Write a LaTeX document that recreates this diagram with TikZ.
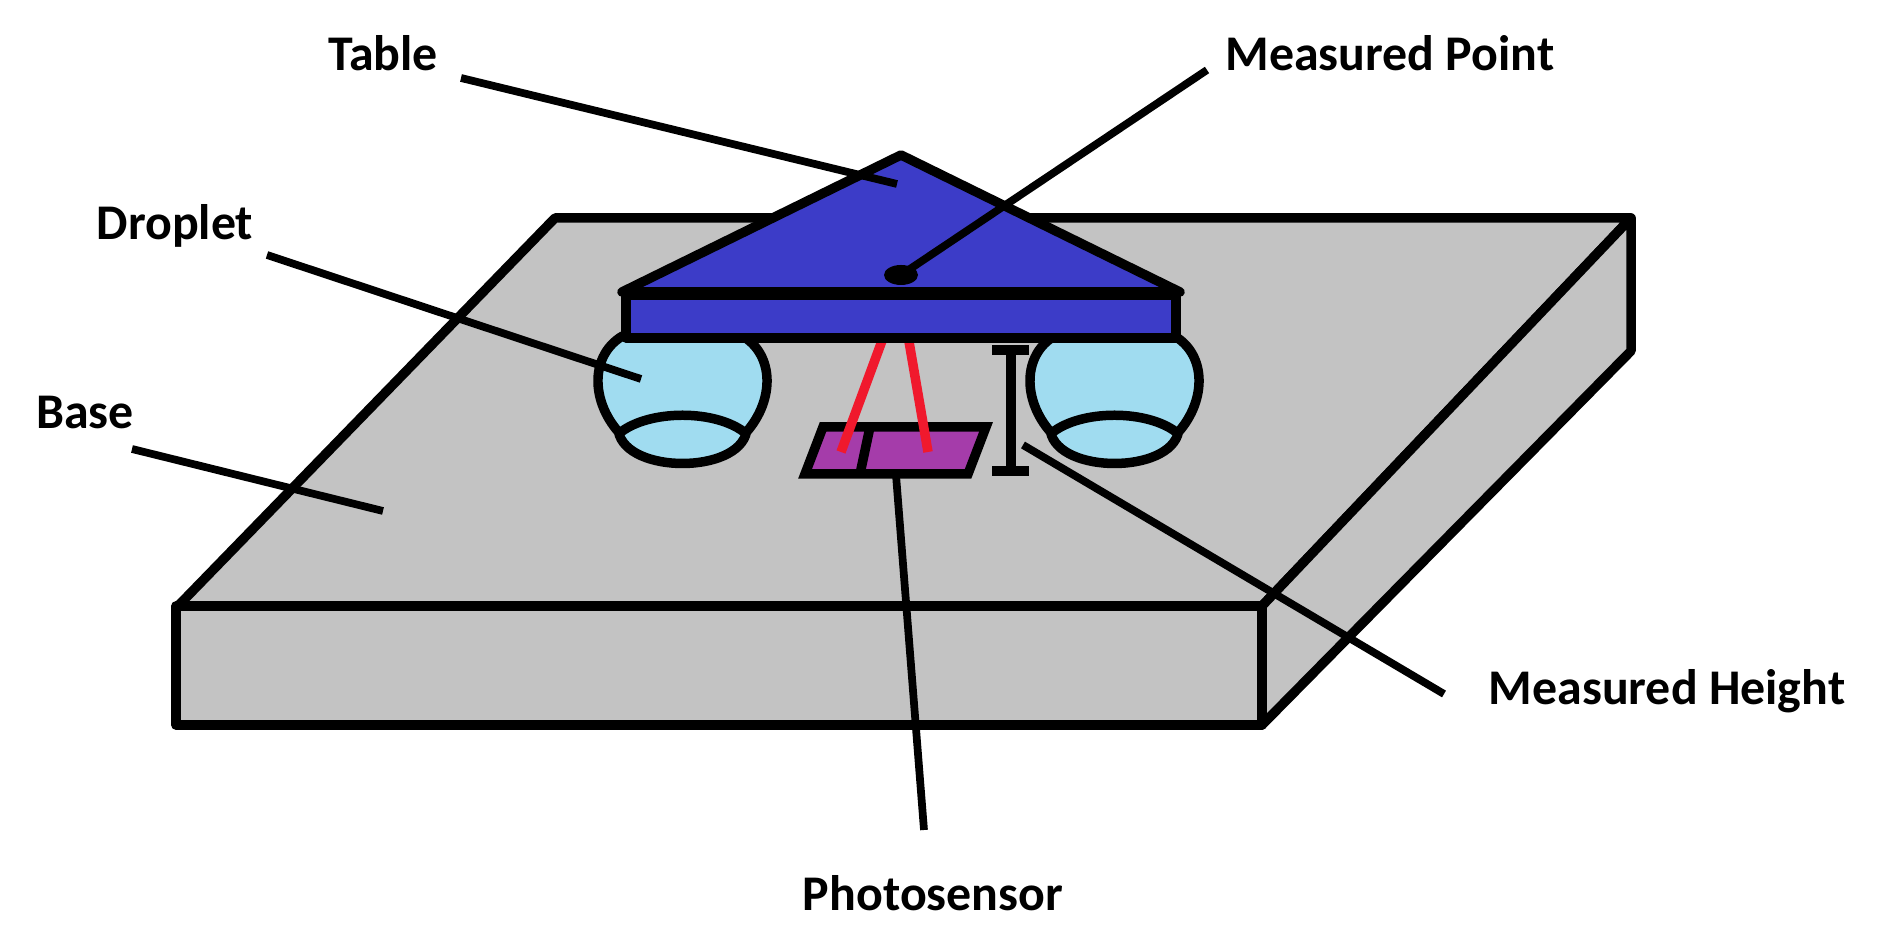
\documentclass[tikz,border=0pt]{standalone}
\usepackage{fontspec}
\setmainfont{Carlito}
\definecolor{basegray}{RGB}{195,195,195}
\definecolor{tableblue}{RGB}{60,60,200}
\definecolor{dropblue}{RGB}{160,220,240}
\definecolor{sensorpurple}{RGB}{165,60,170}
\definecolor{beamred}{RGB}{240,25,45}
\tikzset{
    outline/.style={line width=2.7pt,line join=round},
    leader/.style={line width=2.2pt},
    tag/.style={font=\fontsize{14.2pt}{16pt}\selectfont\bfseries,inner sep=0pt},
}
\begin{document}
\begin{tikzpicture}
        \useasboundingbox (0,0) rectangle (18.87,-9.51);
        % base
        \draw [outline,fill=basegray] (1.78,-6.06) -- (5.55,-2.18) -- (16.31,-2.18) -- (12.62,-6.06) -- cycle;
        \draw [outline,fill=basegray] (12.62,-6.06) -- (16.31,-2.18) -- (16.31,-3.51) -- (12.62,-7.25) -- cycle;
        \draw [outline,fill=basegray] (1.76,-6.06) rectangle (12.62,-7.25);
        % droplets
        \foreach \x in {6.825,11.145}{
            \draw [outline,fill=dropblue] (\x-.6,-3.36) .. controls (\x-.92,-3.55) and (\x-.92,-4) .. (\x-.64,-4.32)
                .. controls (\x-.55,-4.74) and (\x+.55,-4.74) .. (\x+.64,-4.32)
                .. controls (\x+.92,-4) and (\x+.92,-3.55) .. (\x+.6,-3.36) -- cycle;
            \draw [outline] (\x-.64,-4.34) .. controls (\x-.35,-4.09) and (\x+.35,-4.09) .. (\x+.64,-4.34);
        }
        % sensor
        \draw [outline,line join=miter,fill=sensorpurple] (8.23,-4.27) -- (9.86,-4.27) -- (9.68,-4.74) -- (8.05,-4.74) -- cycle;
        \draw [outline] (8.7,-4.27) -- (8.6,-4.74);
        \draw [line width=2.7pt,beamred] (8.86,-3.3) -- (8.41,-4.52);
        \draw [line width=2.7pt,beamred] (9.07,-3.3) -- (9.28,-4.52);
        % height bar
        \draw [outline] (10.11,-3.5) -- (10.11,-4.71);
        \draw [outline] (9.92,-3.5) -- (10.29,-3.5);
        \draw [outline] (9.92,-4.71) -- (10.29,-4.71);
        % table
        \draw [outline,fill=tableblue] (6.22,-2.92) -- (9.01,-1.55) -- (11.8,-2.92) -- cycle;
        \draw [outline,fill=tableblue] (6.26,-2.95) rectangle (11.76,-3.38);
        \fill (9.01,-2.75) ellipse (.17 and .1);
        % labels
        \node [tag] (table) at (3.83,-.53) {Table};
        \node [tag] (point) at (13.9,-.53) {Measured Point};
        \node [tag] (droplet) at (1.75,-2.26) {Droplet};
        \node [tag] (base) at (.85,-4.13) {Base};
        \node [tag] (height) at (16.67,-6.91) {Measured Height};
        \node [tag] (sensor) at (9.33,-8.93) {Photosensor};
        % leaders
        \coordinate (tablefrom) at (4.61,-.78);
        \coordinate (tableto) at (8.97,-1.84);
        \coordinate (pointfrom) at (12.07,-.7);
        \coordinate (pointto) at (9.01,-2.75);
        \coordinate (dropletfrom) at (2.67,-2.55);
        \coordinate (dropletto) at (6.41,-3.79);
        \coordinate (basefrom) at (1.32,-4.49);
        \coordinate (baseto) at (3.83,-5.11);
        \coordinate (heightfrom) at (14.44,-6.94);
        \coordinate (heightto) at (10.23,-4.45);
        \coordinate (sensorfrom) at (9.24,-8.3);
        \coordinate (sensorto) at (8.96,-4.75);
        \foreach \a/\b in {tablefrom/tableto,pointfrom/pointto,dropletfrom/dropletto,basefrom/baseto,heightfrom/heightto,sensorfrom/sensorto}{
            \draw [leader] (\a) -- (\b);
        }
\end{tikzpicture}
\end{document}
